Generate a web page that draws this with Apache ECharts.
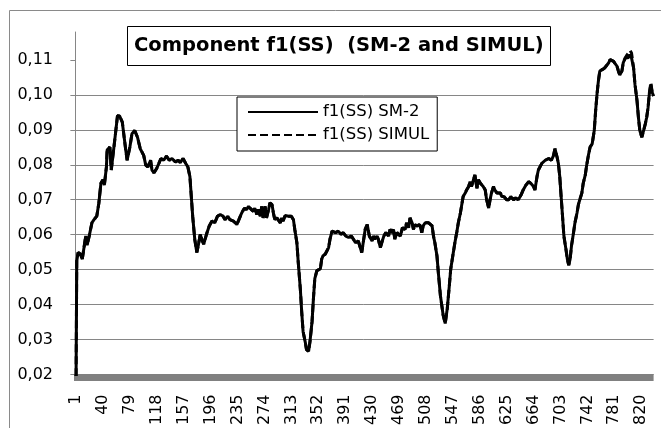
<!DOCTYPE html>
<html><head><meta charset="utf-8">
<script src="https://cdn.jsdelivr.net/npm/echarts@6/dist/echarts.min.js"></script>
<style>html,body{margin:0;padding:0;background:#fff}#c{width:661px;height:428px}</style>
</head><body><div id="c"></div>
<script>
const titleText = 'Component f1(SS)  (SM-2 and SIMUL)';
const seriesNames = ['f1(SS) SM-2', 'f1(SS) SIMUL'];
const xTickLabels = [1,40,79,118,157,196,235,274,313,352,391,430,469,508,547,586,625,664,703,742,781,820];
const yTicks = [0.02,0.03,0.04,0.05,0.06,0.07,0.08,0.09,0.10,0.11];

const sampleIdx = [
1,2,4,7,10,15,17,20,24,27,
31,34,37,40,42,45,46,50,52,54,
57,61,64,68,70,73,75,79,82,86,
90,94,99,102,105,109,111,114,118,121,
124,128,132,136,140,145,149,152,156,160,
163,166,168,170,173,176,178,181,184,186,
190,194,198,202,206,210,214,217,221,224,
229,234,237,241,245,248,251,255,258,260,
263,265,268,270,272,275,277,280,282,285,
287,289,292,294,297,299,301,304,309,313,
316,318,321,323,326,328,330,333,335,338,
340,343,345,347,350,352,355,357,359,362,
364,367,369,372,374,377,381,385,388,392,
396,400,403,406,410,415,420,423,426,430,
432,434,437,439,442,444,447,450,454,456,
459,461,463,466,468,471,474,478,480,483,
485,488,490,492,495,499,502,504,507,509,
512,514,517,519,521,524,526,529,531,533,
536,537,539,542,544,547,550,553,555,558,
560,562,565,567,570,572,574,577,579,582,
584,587,589,591,594,596,599,601,603,606,
608,611,613,616,618,621,625,628,631,635,
638,642,646,649,653,657,660,664,666,669,
671,673,676,678,681,683,686,688,690,693,
695,698,700,702,704,706,708,711,713,715,
717,719,722,724,727,729,731,734,736,739,
741,744,746,749,752,754,756,758,760,764,
767,769,773,775,777,780,782,785,787,789,
792,794,797,799,801,804,806,809,811,814,
816,818,821,823,826,828,830,832,834,836,
838];

const sm2Values = [
.0195,.0525,.0549,.0545,.053,.0596,.057,.0596,.0634,.0643,
.0653,.069,.0747,.0757,.0742,.0794,.0842,.0851,.0785,.078,
.087,.094,.094,.0922,.0917,.0842,.0813,.0851,.0889,.0898,
.0879,.0846,.0827,.0799,.0794,.0813,.0785,.0777,.079,.0804,
.0818,.0813,.0825,.0813,.0818,.0808,.0813,.0806,.0818,.0804,
.0794,.0766,.0709,.0653,.0587,.0549,.0568,.0601,.0582,.0573,
.0601,.0625,.0639,.0634,.0653,.0658,.0653,.0643,.0653,.0643,
.0639,.0629,.0643,.0662,.0676,.0672,.0681,.0672,.0667,.0676,
.0658,.0672,.0653,.0681,.0648,.0681,.0648,.0672,.0691,.0686,
.0662,.0643,.0648,.0643,.0634,.0648,.0639,.0655,.0653,.0653,
.0643,.0615,.0577,.0521,.0445,.0379,.0323,.0294,.0271,.0266,
.0294,.0351,.0417,.0474,.0497,.0492,.0502,.053,.054,.0544,
.0549,.0563,.0587,.061,.0615,.0606,.061,.0601,.0606,.0596,
.0592,.0596,.0587,.0577,.0582,.0549,.0615,.0629,.0596,.0582,
.0596,.0587,.0596,.0587,.0563,.0577,.0596,.0606,.0596,.0615,
.0606,.0615,.0587,.0606,.061,.0596,.062,.0615,.0634,.062,
.0648,.0634,.0615,.0629,.0625,.0629,.0606,.0625,.0634,.0629,
.0634,.0629,.0625,.0596,.0577,.054,.0492,.0426,.0398,.037,
.0346,.035,.0389,.0455,.0502,.054,.0577,.061,.0634,.0662,
.0686,.0709,.0719,.0728,.0738,.0752,.0738,.0757,.0771,.0733,
.0757,.0747,.0752,.0738,.0728,.07,.0676,.07,.0719,.0738,
.0728,.0719,.0714,.0719,.0709,.0709,.07,.07,.0709,.07,
.0705,.07,.0714,.0728,.0742,.0752,.0747,.0738,.0728,.0766,
.0785,.078,.0804,.0799,.0813,.0808,.0818,.0823,.0813,.0827,
.0846,.0823,.0804,.0766,.0709,.0653,.0596,.0558,.053,.0513,
.053,.0568,.0606,.0634,.0662,.0686,.07,.0719,.0747,.0771,
.0799,.0832,.0851,.086,.0898,.0955,.1002,.104,.1068,.1073,
.1077,.1082,.1092,.1101,.1106,.1096,.1092,.1082,.1068,.1057,
.1068,.1092,.1106,.111,.1106,.1115,.1106,.1077,.103,.0983,
.0936,.0898,.0879,.0884,.0917,.0936,.0964,.1007,.103,.1007,
.0997];

const simulValues = [
.0195,.0525,.0549,.0545,.053,.0596,.057,.0596,.0634,.0643,
.0653,.069,.0747,.0757,.0742,.0794,.0842,.0851,.0785,.078,
.087,.094,.094,.0922,.0917,.0842,.0813,.0851,.0889,.0898,
.0879,.0846,.0827,.0799,.0794,.0813,.0785,.0777,.079,.0804,
.0818,.0813,.0825,.0813,.0818,.0808,.0813,.0806,.0818,.0804,
.0794,.0766,.0709,.0653,.0587,.0549,.0568,.0601,.0582,.0573,
.0601,.0625,.0639,.0634,.0653,.0658,.0653,.0643,.0653,.0643,
.0639,.0629,.0643,.0662,.0676,.0672,.0681,.0672,.0667,.0676,
.0658,.0672,.0653,.0681,.0648,.0681,.0648,.0672,.0691,.0686,
.0662,.0643,.0648,.0643,.0634,.0648,.0639,.0655,.0653,.0653,
.0643,.0615,.0577,.0521,.0445,.0379,.0323,.0294,.0271,.0266,
.0294,.0351,.0417,.0474,.0497,.0492,.0502,.053,.054,.0544,
.0549,.0563,.0587,.061,.0615,.0606,.061,.0601,.0606,.0596,
.0592,.0596,.0587,.0577,.0582,.0549,.0615,.0629,.0596,.0582,
.0596,.0587,.0596,.0587,.0563,.0577,.0596,.0606,.0596,.0615,
.0606,.0615,.0587,.0606,.061,.0596,.062,.0615,.0634,.062,
.0648,.0634,.0615,.0629,.0625,.0629,.0606,.0625,.0634,.0629,
.0634,.0629,.0625,.0596,.0577,.054,.0492,.0426,.0398,.037,
.0346,.035,.0389,.0455,.0502,.054,.0577,.061,.0634,.0662,
.0686,.0709,.0719,.0728,.0738,.0752,.0738,.0757,.0771,.0733,
.0757,.0747,.0752,.0738,.0728,.07,.0676,.07,.0719,.0738,
.0728,.0719,.0714,.0719,.0709,.0709,.07,.07,.0709,.07,
.0705,.07,.0714,.0728,.0742,.0752,.0747,.0738,.0728,.0766,
.0785,.078,.0804,.0799,.0813,.0808,.0818,.0823,.0813,.0827,
.0846,.0823,.0804,.0766,.0709,.0653,.0596,.0558,.053,.0513,
.053,.0568,.0606,.0634,.0662,.0686,.07,.0719,.0747,.0771,
.0799,.0832,.0851,.086,.0898,.0955,.1002,.104,.1068,.1073,
.1077,.1082,.1092,.1101,.1106,.1096,.1092,.1082,.1068,.1057,
.1068,.1092,.1106,.1113,.1115,.1127,.112,.1077,.103,.0983,
.0936,.0898,.0879,.0884,.0917,.0936,.0964,.1007,.1035,.1007,
.0997];

const FONT = 'DejaVu Sans';
const toPairs = vals => vals.map((v, i) => [sampleIdx[i], v]);

const chart = echarts.init(document.getElementById('c'), null, {renderer: 'canvas', width: 661, height: 428});
chart.setOption({
  animation: false,
  backgroundColor: '#ffffff',
  textStyle: {fontFamily: FONT},
  title: {
    text: titleText, left: 127, top: 26, padding: [10, 7],
    borderColor: '#000', borderWidth: 1, backgroundColor: '#fff',
    textStyle: {fontFamily: FONT, fontWeight: 'bold', fontSize: 19.5, color: '#000', lineHeight: 20}
  },
  legend: {
    orient: 'vertical', left: 237, top: 97, padding: [6.5, 8, 7.5, 10],
    itemWidth: 70, itemHeight: 14, itemGap: 6,
    borderColor: '#000', borderWidth: 1, backgroundColor: '#fff',
    itemStyle: {opacity: 0},
    textStyle: {fontFamily: FONT, fontSize: 16.5, color: '#000', lineHeight: 17},
    data: seriesNames
  },
  grid: {left: 74, top: 32, width: 579.6, height: 346.3},
  xAxis: {
    type: 'value', min: -2, max: 838, offset: 3,
    axisLine: {show: true, lineStyle: {color: '#808080', width: 7, cap: 'butt'}, symbol: ['none', 'none']},
    axisTick: {show: false},
    splitLine: {show: false},
    axisLabel: {customValues: xTickLabels, rotate: 90, margin: 17, fontFamily: FONT, fontSize: 16, color: '#000'}
  },
  yAxis: {
    type: 'value', min: 0.02, max: 0.118, interval: 0.01,
    axisLine: {show: true, lineStyle: {color: '#868686', width: 1}},
    axisTick: {show: true, inside: false, length: 5, customValues: yTicks, lineStyle: {color: '#868686'}},
    axisLabel: {customValues: yTicks, margin: 21, fontFamily: FONT, fontSize: 16, color: '#000',
      formatter: v => v.toFixed(2).replace('.', ',')},
    splitLine: {show: true, showMaxLine: false, lineStyle: {color: '#868686', width: 1}}
  },
  series: [
    {name: seriesNames[0], type: 'line', data: toPairs(sm2Values), symbol: 'none', showSymbol: false,
      lineStyle: {color: '#000', width: 3, type: 'solid'}, itemStyle: {color: '#000'}, z: 3},
    {name: seriesNames[1], type: 'line', data: toPairs(simulValues), symbol: 'none', showSymbol: false,
      lineStyle: {color: '#000', width: 3, type: [8, 4]}, itemStyle: {color: '#000'}, z: 4}
  ],
  graphic: [{type: 'rect', silent: true, z: -10,
    shape: {x: 9.5, y: 10.5, width: 700, height: 500},
    style: {fill: 'none', stroke: '#8a8a8a', lineWidth: 1}}]
});
</script></body></html>
